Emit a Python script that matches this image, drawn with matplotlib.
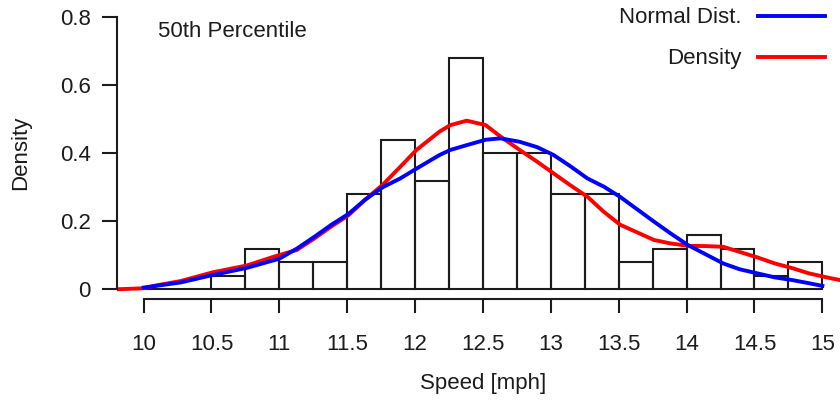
import numpy as np
import matplotlib.pyplot as plt

plt.rcParams['font.family'] = ['Liberation Sans', 'DejaVu Sans']

# histogram (density per 0.25 mph bin, n = 100)
bin_edges = [10.0, 10.25, 10.5, 10.75, 11.0, 11.25, 11.5, 11.75, 12.0, 12.25, 12.5,
             12.75, 13.0, 13.25, 13.5, 13.75, 14.0, 14.25, 14.5, 14.75, 15.0]
bin_density = [0.0, 0.0, 0.04, 0.12, 0.08, 0.08, 0.28, 0.44, 0.32, 0.68,
               0.40, 0.40, 0.28, 0.28, 0.08, 0.12, 0.16, 0.12, 0.04, 0.08]

# fitted normal curve
norm_x = [10.0, 10.27, 10.51, 10.76, 11.0, 11.13, 11.26, 11.38, 11.51, 11.63, 11.76,
          11.89, 12.01, 12.18, 12.26, 12.38, 12.52, 12.63, 12.77, 12.9, 13.02, 13.14,
          13.27, 13.39, 13.51, 13.76, 13.88, 14.01, 14.27, 14.39, 14.52, 14.65, 14.78,
          14.9, 15.0]
norm_y = [0.005, 0.02, 0.042, 0.063, 0.09, 0.12, 0.155, 0.189, 0.222, 0.263, 0.30,
          0.326, 0.355, 0.395, 0.41, 0.424, 0.44, 0.444, 0.434, 0.418, 0.395, 0.363,
          0.326, 0.302, 0.272, 0.199, 0.165, 0.13, 0.076, 0.059, 0.047, 0.035, 0.027,
          0.018, 0.01]

# kernel density curve
kde_x = [9.8, 10.0, 10.1, 10.27, 10.51, 10.76, 10.96, 11.13, 11.26, 11.38, 11.51,
         11.63, 11.76, 11.89, 12.01, 12.18, 12.26, 12.38, 12.52, 12.63, 12.77, 12.9,
         13.02, 13.14, 13.27, 13.39, 13.51, 13.76, 13.88, 14.01, 14.15, 14.27, 14.39,
         14.52, 14.65, 14.78, 14.9, 15.01, 15.13]
kde_y = [0.0, 0.003, 0.012, 0.024, 0.05, 0.07, 0.096, 0.116, 0.15, 0.184, 0.218,
         0.263, 0.307, 0.36, 0.41, 0.464, 0.483, 0.496, 0.483, 0.449, 0.41, 0.375,
         0.341, 0.307, 0.272, 0.228, 0.19, 0.145, 0.135, 0.128, 0.127, 0.125, 0.11,
         0.094, 0.076, 0.062, 0.047, 0.037, 0.027]

xticks = [10, 10.5, 11, 11.5, 12, 12.5, 13, 13.5, 14, 14.5, 15]
yticks = [0, 0.2, 0.4, 0.6, 0.8]

ink = '#1c1c1c'
fs = 16

fig = plt.figure(figsize=(8.4, 4.01), dpi=100)
ax = fig.add_axes([0.1393, 0.2544, 0.8607, 0.7456])

ax.bar(bin_edges[:-1], bin_density, width=0.25, align='edge', fill=False,
       edgecolor=ink, linewidth=1.5)
red, = ax.plot(kde_x, kde_y, color='#ff0000', lw=2.8, solid_joinstyle='round')
blue, = ax.plot(norm_x, norm_y, color='#0000ff', lw=2.8, solid_joinstyle='round')

ax.set_xlim(9.804, 15.13)
ax.set_ylim(-0.0285, 0.851)

# R style detached axes
for s in ['top', 'right']:
    ax.spines[s].set_visible(False)
ax.spines['left'].set_bounds(0, 0.8)
ax.spines['bottom'].set_bounds(10, 15)
for s in ['left', 'bottom']:
    ax.spines[s].set_linewidth(1.5)
    ax.spines[s].set_color(ink)

ax.set_xticks(xticks)
ax.set_xticklabels([f'{t:g}' for t in xticks])
ax.set_yticks(yticks)
ax.set_yticklabels([f'{t:g}' for t in yticks])
ax.tick_params(axis='x', length=10, width=1.5, color=ink, pad=15,
               labelsize=fs, labelcolor=ink)
ax.tick_params(axis='y', length=11, width=1.5, color=ink, pad=8,
               labelsize=fs, labelcolor=ink)

ax.set_xlabel('Speed [mph]', fontsize=fs, color=ink)
ax.xaxis.label.set_va('center')
ax.xaxis.set_label_coords(0.506, -0.281)
ax.set_ylabel('Density', fontsize=fs, color=ink)
ax.yaxis.label.set_va('center')
ax.yaxis.set_label_coords(-0.133, 0.488)

ax.text(0.0567, 0.893, '50th Percentile', transform=ax.transAxes, fontsize=fs,
        va='center', ha='left', color=ink)

ax.legend([blue, red], ['Normal Dist.', 'Density'], loc='upper right',
          bbox_to_anchor=(0.979, 0.975), markerfirst=False, frameon=False,
          fontsize=fs, handlelength=3.0, handletextpad=0.75, labelspacing=0.9,
          borderaxespad=0, borderpad=0, labelcolor=ink)

fig.savefig('out.png', dpi=100)
